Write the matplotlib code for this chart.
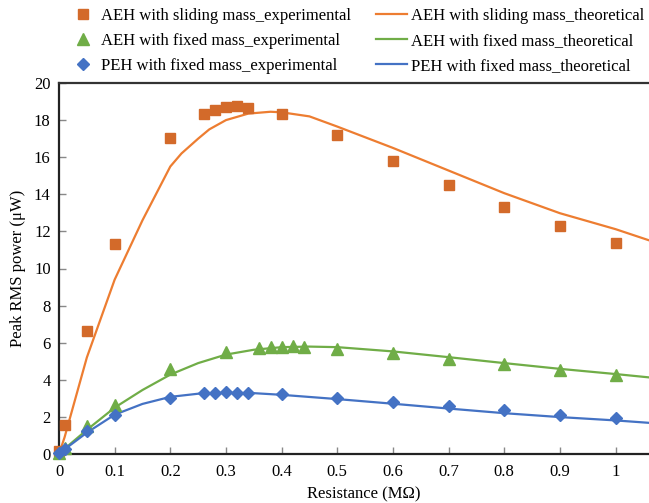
import matplotlib
matplotlib.use("Agg")
import matplotlib.pyplot as plt
from matplotlib.lines import Line2D

plt.rcParams['font.family'] = ['Liberation Serif', 'DejaVu Serif']

# Experimental data
x_sliding_exp = [0, 0.01, 0.05, 0.1, 0.2, 0.26, 0.28, 0.3, 0.32, 0.34, 0.4, 0.5, 0.6, 0.7, 0.8, 0.9, 1.0]
y_sliding_exp = [0.15, 1.55, 6.65, 11.3, 17.05, 18.35, 18.56, 18.7, 18.78, 18.67, 18.35, 17.18, 15.82, 14.5, 13.32, 12.3, 11.35]

x_fixed_exp = [0, 0.01, 0.05, 0.1, 0.2, 0.3, 0.36, 0.38, 0.4, 0.42, 0.44, 0.5, 0.6, 0.7, 0.8, 0.9, 1.0]
y_fixed_exp = [0.05, 0.3, 1.5, 2.66, 4.58, 5.52, 5.74, 5.76, 5.79, 5.8, 5.76, 5.68, 5.42, 5.12, 4.83, 4.55, 4.28]

x_peh_exp = [0, 0.01, 0.05, 0.1, 0.2, 0.26, 0.28, 0.3, 0.32, 0.34, 0.4, 0.5, 0.6, 0.7, 0.8, 0.9, 1.0]
y_peh_exp = [0.05, 0.25, 1.22, 2.1, 3.0, 3.28, 3.3, 3.32, 3.3, 3.3, 3.22, 3.02, 2.8, 2.58, 2.36, 2.1, 1.94]

# Theoretical curves
x_sliding_th = [0, 0.01, 0.05, 0.1, 0.15, 0.2, 0.22, 0.25, 0.27, 0.3, 0.34, 0.38, 0.4, 0.45, 0.5, 0.6, 0.7, 0.8, 0.9, 1.0, 1.06]
y_sliding_th = [0, 0.9, 5.2, 9.4, 12.6, 15.5, 16.2, 17.0, 17.5, 18.0, 18.35, 18.45, 18.42, 18.2, 17.65, 16.5, 15.28, 14.06, 12.98, 12.12, 11.52]

x_fixed_th = [0, 0.01, 0.05, 0.1, 0.15, 0.2, 0.25, 0.3, 0.35, 0.4, 0.45, 0.5, 0.6, 0.7, 0.8, 0.9, 1.0, 1.06]
y_fixed_th = [0, 0.28, 1.3, 2.5, 3.45, 4.28, 4.9, 5.36, 5.62, 5.76, 5.79, 5.76, 5.53, 5.22, 4.9, 4.59, 4.31, 4.13]

x_peh_th = [0, 0.01, 0.05, 0.1, 0.15, 0.2, 0.25, 0.3, 0.35, 0.4, 0.5, 0.6, 0.7, 0.8, 0.9, 1.0, 1.06]
y_peh_th = [0, 0.25, 1.15, 2.12, 2.7, 3.08, 3.25, 3.3, 3.28, 3.19, 2.96, 2.71, 2.45, 2.2, 1.99, 1.81, 1.68]

x_ticks = [0, 0.1, 0.2, 0.3, 0.4, 0.5, 0.6, 0.7, 0.8, 0.9, 1.0]
x_tick_labels = ['0', '0.1', '0.2', '0.3', '0.4', '0.5', '0.6', '0.7', '0.8', '0.9', '1']
y_ticks = [0, 2, 4, 6, 8, 10, 12, 14, 16, 18, 20]

c_or_m = '#D36A2A'
c_or_l = '#ED7D31'
c_gr = '#70AD47'
c_bl = '#4472C4'

FS = 12

fig = plt.figure(figsize=(6.49, 5.03), dpi=100)
ax = fig.add_axes([59/649, 49/503, 1 - 59/649, (454-83)/503])

ax.plot(x_sliding_th, y_sliding_th, color=c_or_l, lw=1.6, zorder=2)
ax.plot(x_fixed_th, y_fixed_th, color=c_gr, lw=1.6, zorder=2)
ax.plot(x_peh_th, y_peh_th, color=c_bl, lw=1.6, zorder=2)

ax.plot(x_sliding_exp, y_sliding_exp, 's', color=c_or_m, ms=6.5, ls='none', zorder=3, clip_on=False)
ax.plot(x_fixed_exp, y_fixed_exp, '^', color=c_gr, ms=8, ls='none', zorder=3, clip_on=False)
ax.plot(x_peh_exp, y_peh_exp, 'D', color=c_bl, ms=6, ls='none', zorder=3, clip_on=False)

ax.set_xlim(0, 1.06)
ax.set_ylim(0, 20)
ax.set_xticks(x_ticks)
ax.set_xticklabels(x_tick_labels)
ax.set_yticks(y_ticks)
ax.tick_params(axis='both', labelsize=FS, direction='in', length=5, width=1.0,
               color='#888888', labelcolor='black')
ax.tick_params(axis='x', pad=7)
ax.tick_params(axis='y', pad=6)
for s in ['left', 'bottom']:
    ax.spines[s].set_linewidth(1.6)
    ax.spines[s].set_color('#222222')
ax.spines['top'].set_linewidth(1.6)
ax.spines['top'].set_color('#333333')
ax.spines['right'].set_visible(False)

ax.set_xlabel('Resistance (MΩ)', fontsize=FS)
ax.xaxis.set_label_coords(0.517, -0.088)
ax.set_ylabel('Peak RMS power (μW)', fontsize=FS)
ax.yaxis.set_label_coords(-0.056, 0.5)

handles = [
    Line2D([], [], marker='s', color=c_or_m, ls='none', ms=6.5),
    Line2D([], [], marker='^', color=c_gr, ls='none', ms=8),
    Line2D([], [], marker='D', color=c_bl, ls='none', ms=6),
    Line2D([], [], color=c_or_l, lw=1.6),
    Line2D([], [], color=c_gr, lw=1.6),
    Line2D([], [], color=c_bl, lw=1.6),
]
labels = [
    'AEH with sliding mass_experimental',
    'AEH with fixed mass_experimental',
    'PEH with fixed mass_experimental',
    'AEH with sliding mass_theoretical',
    'AEH with fixed mass_theoretical',
    'PEH with fixed mass_theoretical',
]
fig.legend(handles, labels, ncol=2, loc='upper left', bbox_to_anchor=(67/649, 1 - 8/503),
           frameon=False, fontsize=FS, handlelength=1.86, handletextpad=0.2,
           columnspacing=1.5, labelspacing=0.55, borderaxespad=0, borderpad=0)

fig.savefig('out.png', dpi=100)
